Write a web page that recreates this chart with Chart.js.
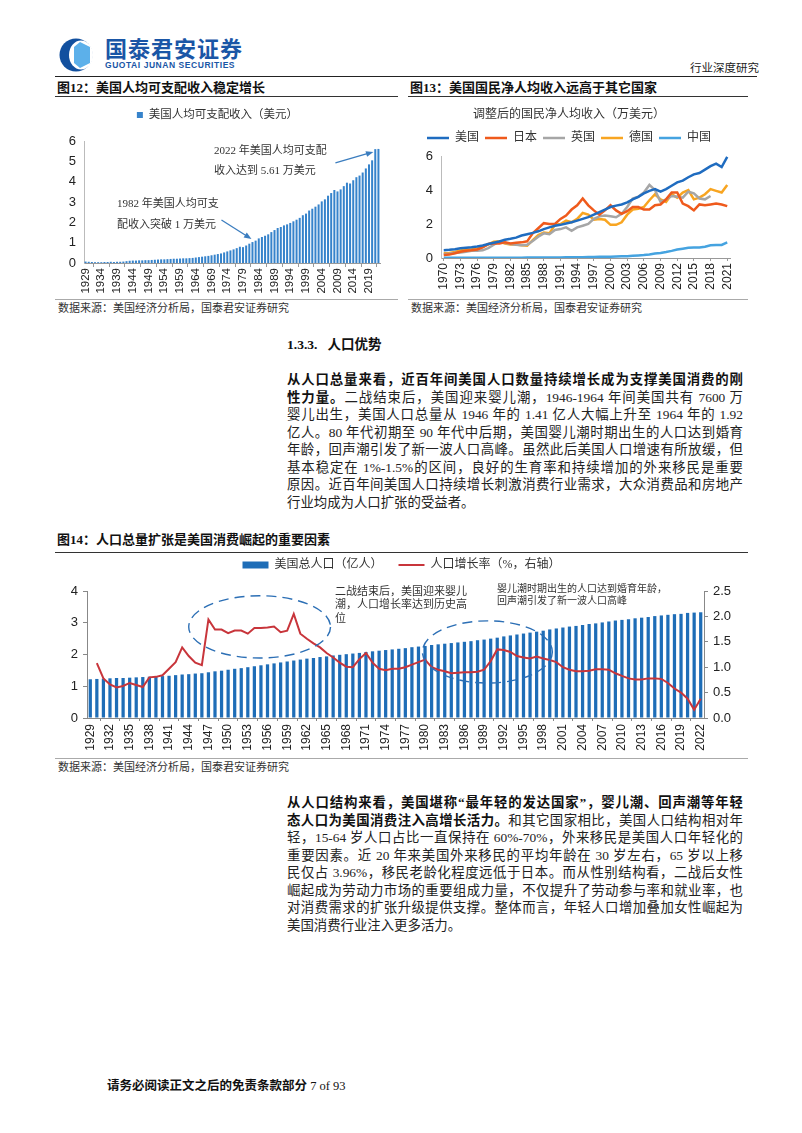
<!DOCTYPE html>
<html>
<head>
<meta charset="utf-8">
<script src="https://cdn.jsdelivr.net/npm/chart.js@4.4.0/dist/chart.umd.min.js"></script>
<style>
  body { margin: 0; width: 802px; height: 1133px; position: relative; background: #fff; overflow: hidden;
         font-family: "Liberation Serif", "Noto Sans CJK SC", serif; color: #111; }
  .t { position: absolute; white-space: nowrap; }
  .fig { font-weight: bold; font-size: 13px; line-height: 16px; }
  .rule { position: absolute; height: 0; border-top: 1.5px solid #333; }
  .rule.light { border-top-color: #aaa; }
  .src { font-size: 11px; line-height: 14px; color: #333; }
  .ln { position: absolute; left: 287px; width: 456px; font-size: 13.4px; line-height: 18px;
        text-align: justify; text-align-last: justify; color: #222; }
  .ln.last { text-align-last: left; }
  b { font-weight: bold; color: #111; }
  canvas { position: absolute; }
</style>
</head>
<body>

<!-- header -->
<svg class="t" style="left:57px;top:38px" width="44" height="34" viewBox="0 0 44 34">
  <circle cx="19" cy="17" r="16.5" fill="#12509f"/>
  <ellipse cx="24" cy="17" rx="12" ry="14.5" fill="#fff"/>
  <path d="M23 4 L33 9 L33 25 L23 30 L17 25 L17 9 Z" fill="#5cb0ea"/>
</svg>
<div class="t" style="left:105px;top:35px;font-family:'Noto Sans CJK SC';font-weight:bold;font-size:22px;line-height:25px;color:#1a56a6;letter-spacing:1px">国泰君安证券</div>
<div class="t" style="left:105px;top:60px;font-family:'Liberation Sans';font-weight:bold;font-size:8.5px;line-height:10px;color:#1a56a6;letter-spacing:0.55px">GUOTAI JUNAN SECURITIES</div>
<div class="t" style="left:690px;top:60px;font-family:'Noto Sans CJK SC';font-size:11.5px;line-height:14px;color:#222">行业深度研究</div>
<div class="rule" style="left:55px;top:76px;width:702px;border-top-color:#222"></div>

<!-- figure 12 / 13 titles -->
<div class="t fig" style="left:57px;top:80px">图12：美国人均可支配收入稳定增长</div>
<div class="t fig" style="left:410px;top:80px">图13：美国国民净人均收入远高于其它国家</div>
<div class="rule" style="left:55px;top:96px;width:343px"></div>
<div class="rule" style="left:408px;top:96px;width:340px"></div>

<canvas id="c12" width="343" height="198" style="left:55px;top:100px"></canvas>
<canvas id="c13" width="342" height="198" style="left:408px;top:100px"></canvas>

<div class="rule light" style="left:55px;top:299px;width:343px"></div>
<div class="rule light" style="left:408px;top:299px;width:340px"></div>
<div class="t src" style="left:58px;top:301px">数据来源：美国经济分析局，国泰君安证券研究</div>
<div class="t src" style="left:411px;top:301px">数据来源：美国经济分析局，国泰君安证券研究</div>

<!-- section text -->
<div class="t" style="left:287px;top:337px;font-weight:bold;font-size:13.5px;line-height:16px">1.3.3.&nbsp;&nbsp;&nbsp;人口优势</div>

<div class="ln" style="top:371px"><b>从人口总量来看，近百年间美国人口数量持续增长成为支撑美国消费的刚</b></div>
<div class="ln" style="top:388.5px"><b>性力量。</b>二战结束后，美国迎来婴儿潮，1946-1964 年间美国共有 7600 万</div>
<div class="ln" style="top:406px">婴儿出生，美国人口总量从 1946 年的 1.41 亿人大幅上升至 1964 年的 1.92</div>
<div class="ln" style="top:423.5px">亿人。80 年代初期至 90 年代中后期，美国婴儿潮时期出生的人口达到婚育</div>
<div class="ln" style="top:441px">年龄，回声潮引发了新一波人口高峰。虽然此后美国人口增速有所放缓，但</div>
<div class="ln" style="top:458.5px">基本稳定在 1%-1.5%的区间，良好的生育率和持续增加的外来移民是重要</div>
<div class="ln" style="top:476px">原因。近百年间美国人口持续增长刺激消费行业需求，大众消费品和房地产</div>
<div class="ln last" style="top:493.5px">行业均成为人口扩张的受益者。</div>

<!-- figure 14 -->
<div class="t fig" style="left:57px;top:532px">图14：人口总量扩张是美国消费崛起的重要因素</div>
<div class="rule" style="left:55px;top:552px;width:693px"></div>
<canvas id="c14" width="693" height="209" style="left:55px;top:549px"></canvas>
<div class="rule light" style="left:55px;top:758px;width:693px"></div>
<div class="t src" style="left:58px;top:760px">数据来源：美国经济分析局，国泰君安证券研究</div>

<div class="ln" style="top:794px"><b>从人口结构来看，美国堪称“最年轻的发达国家”，婴儿潮、回声潮等年轻</b></div>
<div class="ln" style="top:811.5px"><b>态人口为美国消费注入高增长活力。</b>和其它国家相比，美国人口结构相对年</div>
<div class="ln" style="top:829px">轻，15-64 岁人口占比一直保持在 60%-70%，外来移民是美国人口年轻化的</div>
<div class="ln" style="top:846.5px">重要因素。近 20 年来美国外来移民的平均年龄在 30 岁左右，65 岁以上移</div>
<div class="ln" style="top:864px">民仅占 3.96%，移民老龄化程度远低于日本。而从性别结构看，二战后女性</div>
<div class="ln" style="top:881.5px">崛起成为劳动力市场的重要组成力量，不仅提升了劳动参与率和就业率，也</div>
<div class="ln" style="top:899px">对消费需求的扩张升级提供支撑。整体而言，年轻人口增加叠加女性崛起为</div>
<div class="ln last" style="top:916.5px">美国消费行业注入更多活力。</div>

<div class="t" style="left:107px;top:1077px;font-size:12.5px;line-height:16px"><span style="font-family:'Noto Sans CJK SC';font-weight:bold">请务必阅读正文之后的免责条款部分</span> 7 of 93</div>

<script>
// ---------- data ----------
function yearRange(a, b) {
  const out = [];
  for (let y = a; y <= b; y++) out.push(String(y));
  return out;
}

// fig 12: per-capita disposable income, 万美元, 1929-2022
const YEARS_12 = yearRange(1929, 2022);
const DPI_PER_CAPITA = [
  0.07, 0.06, 0.05, 0.04, 0.04, 0.04, 0.05, 0.05, 0.06, 0.05,
  0.06, 0.06, 0.07, 0.09, 0.11, 0.12, 0.12, 0.13, 0.13, 0.14,
  0.14, 0.15, 0.16, 0.17, 0.18, 0.18, 0.19, 0.20, 0.21, 0.21,
  0.22, 0.23, 0.23, 0.24, 0.25, 0.27, 0.29, 0.31, 0.33, 0.35,
  0.38, 0.41, 0.44, 0.47, 0.52, 0.57, 0.62, 0.67, 0.73, 0.80,
  0.78, 0.86, 0.95, 1.03, 1.10, 1.21, 1.28, 1.34, 1.41, 1.52,
  1.62, 1.72, 1.77, 1.85, 1.90, 1.97, 2.05, 2.13, 2.22, 2.35,
  2.43, 2.58, 2.67, 2.77, 2.88, 3.03, 3.13, 3.31, 3.44, 3.59,
  3.52, 3.62, 3.78, 3.95, 3.91, 4.07, 4.22, 4.30, 4.45, 4.65,
  4.85, 5.05, 5.60, 5.61
];
const Y_MAX_12 = 6;

// fig 13: adjusted net national income per capita, 万美元, 1970-2021
const YEARS_13 = yearRange(1970, 2021);
const NNI_US = [
  0.45, 0.48, 0.52, 0.57, 0.60, 0.63, 0.68, 0.74, 0.82, 0.90,
  0.97, 1.08, 1.13, 1.20, 1.32, 1.40, 1.48, 1.57, 1.70, 1.80,
  1.90, 1.95, 2.03, 2.10, 2.20, 2.30, 2.40, 2.55, 2.70, 2.85,
  3.00, 3.08, 3.15, 3.27, 3.45, 3.60, 3.80, 3.95, 4.05, 3.90,
  4.05, 4.25, 4.45, 4.55, 4.75, 4.92, 5.00, 5.20, 5.40, 5.55,
  5.35, 5.95
];
const NNI_JP = [
  0.18, 0.20, 0.28, 0.37, 0.42, 0.45, 0.50, 0.62, 0.82, 0.85,
  0.85, 0.92, 0.85, 0.90, 0.92, 0.98, 1.45, 1.75, 2.05, 2.00,
  2.00, 2.30, 2.50, 2.85, 3.10, 3.50, 3.10, 2.80, 2.55, 2.80,
  3.10, 2.80, 2.60, 2.75, 3.00, 3.00, 2.85, 2.85, 3.10, 3.15,
  3.45, 3.85, 3.85, 3.20, 3.05, 2.80, 3.15, 3.10, 3.15, 3.20,
  3.15, 3.05
];
const NNI_UK = [
  0.22, 0.25, 0.30, 0.33, 0.37, 0.42, 0.42, 0.45, 0.58, 0.78,
  0.98, 0.90, 0.82, 0.78, 0.75, 0.78, 1.00, 1.25, 1.45, 1.40,
  1.65, 1.70, 1.80, 1.60, 1.80, 1.90, 2.00, 2.30, 2.45, 2.50,
  2.45, 2.40, 2.60, 3.00, 3.50, 3.60, 3.85, 4.30, 4.00, 3.30,
  3.45, 3.65, 3.60, 3.55, 3.90, 3.80, 3.50, 3.45, 3.65, null,
  null, null
];
const NNI_DE = [
  0.28, 0.30, 0.35, 0.45, 0.50, 0.52, 0.55, 0.65, 0.80, 0.95,
  0.98, 0.85, 0.80, 0.80, 0.75, 0.72, 1.05, 1.35, 1.50, 1.45,
  1.95, 2.00, 2.20, 2.10, 2.30, 2.65, 2.55, 2.25, 2.30, 2.25,
  1.95, 1.95, 2.10, 2.55, 2.85, 2.90, 3.00, 3.40, 3.75, 3.45,
  3.30, 3.75, 3.55, 3.85, 4.00, 3.45, 3.55, 3.75, 4.05, 3.95,
  3.85, 4.30
];
const NNI_CN = [
  0.01, 0.01, 0.01, 0.01, 0.01, 0.01, 0.01, 0.01, 0.02, 0.02,
  0.02, 0.02, 0.02, 0.02, 0.02, 0.03, 0.03, 0.03, 0.03, 0.03,
  0.03, 0.03, 0.04, 0.04, 0.04, 0.05, 0.06, 0.06, 0.07, 0.07,
  0.08, 0.09, 0.10, 0.11, 0.13, 0.15, 0.17, 0.21, 0.26, 0.30,
  0.35, 0.42, 0.50, 0.55, 0.60, 0.62, 0.62, 0.66, 0.75, 0.76,
  0.77, 0.92
];
const SERIES_13 = [
  { label: "美国", data: NNI_US, color: "#1f6cc0" },
  { label: "日本", data: NNI_JP, color: "#ef5a1c" },
  { label: "英国", data: NNI_UK, color: "#a6a6a6" },
  { label: "德国", data: NNI_DE, color: "#f8a521" },
  { label: "中国", data: NNI_CN, color: "#45a3e0" },
];

// fig 14: population (亿人) and growth rate (%), 1929-2022
const YEARS_14 = yearRange(1929, 2022);
const POPULATION = [
  1.22, 1.23, 1.24, 1.25, 1.26, 1.26, 1.27, 1.28, 1.29, 1.30,
  1.31, 1.32, 1.33, 1.35, 1.37, 1.38, 1.40, 1.41, 1.44, 1.47,
  1.49, 1.52, 1.55, 1.57, 1.60, 1.63, 1.66, 1.69, 1.72, 1.75,
  1.78, 1.81, 1.84, 1.87, 1.89, 1.92, 1.94, 1.97, 1.99, 2.01,
  2.03, 2.05, 2.08, 2.10, 2.12, 2.14, 2.16, 2.18, 2.20, 2.23,
  2.25, 2.27, 2.30, 2.32, 2.34, 2.36, 2.38, 2.40, 2.42, 2.45,
  2.47, 2.50, 2.53, 2.57, 2.60, 2.63, 2.66, 2.69, 2.72, 2.75,
  2.79, 2.82, 2.85, 2.88, 2.90, 2.93, 2.96, 2.98, 3.01, 3.04,
  3.07, 3.09, 3.11, 3.14, 3.16, 3.18, 3.21, 3.23, 3.25, 3.27,
  3.28, 3.31, 3.32, 3.33
];
const POP_GROWTH = [
  null, 1.08, 0.78, 0.66, 0.60, 0.63, 0.69, 0.65, 0.61, 0.80,
  0.81, 0.84, 0.97, 1.10, 1.39, 1.22, 1.09, 1.04, 1.94, 1.74,
  1.74, 1.67, 1.72, 1.72, 1.66, 1.77, 1.77, 1.78, 1.80, 1.69,
  1.72, 2.05, 1.66, 1.56, 1.47, 1.39, 1.28, 1.19, 1.09, 1.01,
  1.00, 1.16, 1.28, 1.09, 0.97, 0.94, 0.97, 0.97, 1.00, 1.05,
  1.10, 1.15, 1.00, 0.95, 0.92, 0.88, 0.89, 0.90, 0.90, 0.91,
  0.95, 1.12, 1.35, 1.34, 1.30, 1.22, 1.19, 1.17, 1.21, 1.17,
  1.14, 1.10, 1.00, 0.95, 0.92, 0.92, 0.93, 0.96, 0.96, 0.95,
  0.88, 0.83, 0.78, 0.76, 0.76, 0.78, 0.78, 0.77, 0.69, 0.58,
  0.50, 0.38, 0.16, 0.38
];

// ---------- shared styling ----------
const SANS = '"Liberation Sans", "Noto Sans CJK SC", sans-serif';
const CJK = '"Liberation Serif", "Noto Sans CJK SC", serif';
const TEXT = "#222";
const ARROW_COLOR = "#3b7dbf";
Chart.defaults.font.family = SANS;
Chart.defaults.color = TEXT;

function everyNth(labels, n) {
  return (value, index) => (index % n === 0 ? labels[index] : null);
}

function gapAxis(px) {
  return {
    type: "linear", position: "top", display: true,
    grid: { display: false }, border: { display: false }, ticks: { display: false },
    afterFit: (s) => { s.height = px; },
  };
}

function drawArrow(ctx, x1, y1, x2, y2, color) {
  const a = Math.atan2(y2 - y1, x2 - x1);
  const h = 8;
  ctx.save();
  ctx.strokeStyle = color;
  ctx.fillStyle = color;
  ctx.lineWidth = 1.3;
  ctx.beginPath();
  ctx.moveTo(x1, y1);
  ctx.lineTo(x2 - h * 0.7 * Math.cos(a), y2 - h * 0.7 * Math.sin(a));
  ctx.stroke();
  ctx.beginPath();
  ctx.moveTo(x2, y2);
  ctx.lineTo(x2 - h * Math.cos(a - 0.38), y2 - h * Math.sin(a - 0.38));
  ctx.lineTo(x2 - h * Math.cos(a + 0.38), y2 - h * Math.sin(a + 0.38));
  ctx.closePath();
  ctx.fill();
  ctx.restore();
}

function writeLines(ctx, lines, x, y, step, font) {
  ctx.save();
  ctx.font = font;
  ctx.fillStyle = "#333";
  ctx.textBaseline = "middle";
  ctx.textAlign = "left";
  lines.forEach((line, i) => ctx.fillText(line, x, y + i * step));
  ctx.restore();
}

// ---------- fig 12 ----------
const notes12 = {
  id: "notes12",
  afterDatasetsDraw(chart) {
    const { ctx } = chart;
    const x = chart.scales.x, y = chart.scales.y;
    const i82 = YEARS_12.indexOf("1982");
    const i22 = YEARS_12.indexOf("2022");
    const t1 = { x: x.getPixelForValue(i82) - 1, y: y.getPixelForValue(DPI_PER_CAPITA[i82]) - 3 };
    const t2 = { x: x.getPixelForValue(i22) - 5, y: y.getPixelForValue(DPI_PER_CAPITA[i22]) + 3 };
    drawArrow(ctx, t1.x - 30, t1.y - 19, t1.x, t1.y, ARROW_COLOR);
    drawArrow(ctx, t2.x - 38, t2.y + 11, t2.x, t2.y, ARROW_COLOR);
    const font = '11px ' + CJK;
    writeLines(ctx, ["2022 年美国人均可支配", "收入达到 5.61 万美元"], 159, 51, 20, font);
    writeLines(ctx, ["1982 年美国人均可支", "配收入突破 1 万美元"], 62, 104, 21, font);
  },
};

new Chart(document.getElementById("c12"), {
  type: "bar",
  data: {
    labels: YEARS_12,
    datasets: [{
      label: "美国人均可支配收入（美元）",
      data: DPI_PER_CAPITA,
      xAxisID: "x", yAxisID: "y",
      backgroundColor: "#3683cb",
      barPercentage: 0.8, categoryPercentage: 0.8,
    }],
  },
  options: {
    responsive: false, animation: false,
    layout: { padding: { top: 3.25, right: 18, left: 0, bottom: 0 } },
    plugins: {
      legend: {
        labels: { font: { size: 11.5, family: CJK }, color: "#333", boxWidth: 6, boxHeight: 6, padding: 6 },
      },
      tooltip: { enabled: false },
    },
    scales: {
      x: {
        grid: { display: true, drawOnChartArea: false, tickLength: 4, color: "#999" },
        border: { color: "#999" },
        ticks: { autoSkip: false, maxRotation: 90, minRotation: 90, padding: 1, font: { size: 11.5 }, callback: everyNth(YEARS_12, 5) },
        afterFit: (s) => { s.height = 35; },
      },
      gap: gapAxis(10.25),
      y: {
        min: 0, max: Y_MAX_12,
        ticks: { stepSize: 1, padding: 8, font: { size: 13 } },
        grid: { display: false, drawTicks: false },
        border: { display: true, color: "#bbb" },
        afterFit: (s) => { s.width = 29; },
      },
    },
  },
  plugins: [notes12],
});

// ---------- fig 13 ----------
new Chart(document.getElementById("c13"), {
  type: "line",
  data: {
    labels: YEARS_13,
    datasets: SERIES_13.map((s) => ({
      label: s.label, data: s.data, xAxisID: "x", yAxisID: "y",
      borderColor: s.color, backgroundColor: s.color,
      borderWidth: 2.5, pointRadius: 0, tension: 0, spanGaps: false,
    })),
  },
  options: {
    responsive: false, animation: false,
    layout: { padding: { top: 7.8, right: 20, left: 0, bottom: 0 } },
    plugins: {
      title: {
        display: true, text: "调整后的国民净人均收入（万美元）",
        font: { size: 12, family: CJK, weight: "normal" }, color: "#333",
        padding: { top: 0, bottom: 3.8 },
      },
      legend: {
        labels: {
          font: { size: 12, family: CJK }, color: "#333",
          usePointStyle: true, pointStyle: "line", pointStyleWidth: 22, padding: 6,
        },
      },
      tooltip: { enabled: false },
    },
    scales: {
      x: {
        offset: true,
        grid: { display: true, drawOnChartArea: false, offset: false, tickLength: 3, color: "#999" },
        border: { color: "#999" },
        ticks: { autoSkip: false, maxRotation: 90, minRotation: 90, padding: 2, font: { size: 12 }, callback: everyNth(YEARS_13, 3) },
        afterFit: (s) => { s.height = 40; },
      },
      gap: gapAxis(2),
      y: {
        min: 0, max: 6,
        ticks: { stepSize: 2, padding: 8, font: { size: 13 } },
        grid: { display: false, drawTicks: false },
        border: { display: true, color: "#bbb" },
        afterFit: (s) => { s.width = 33; },
      },
    },
  },
});

// ---------- fig 14 ----------
const notes14 = {
  id: "notes14",
  afterDatasetsDraw(chart) {
    const { ctx } = chart;
    const x = chart.scales.x, y = chart.scales.y;
    const ellipse = (cx, cy, rx, ry) => {
      const px = x.getPixelForValue(cx), py = y.getPixelForValue(cy);
      const prx = Math.abs(x.getPixelForValue(cx + rx) - px);
      const pry = Math.abs(y.getPixelForValue(cy + ry) - py);
      ctx.save();
      ctx.strokeStyle = "#2c6fb5";
      ctx.lineWidth = 1.4;
      ctx.setLineDash([10, 6]);
      ctx.beginPath();
      ctx.ellipse(px, py, prx, pry, 0, 0, Math.PI * 2);
      ctx.stroke();
      ctx.restore();
    };
    // boom of the late 1940s-50s and the echo boom around 1990
    ellipse(YEARS_14.indexOf("1955") - 0.2, 2.87, 10.8, 0.98);
    ellipse(YEARS_14.indexOf("1989") + 0.5, 2.08, 9.9, 0.98);
    writeLines(ctx, ["二战结束后，美国迎来婴儿", "潮，人口增长率达到历史高", "位"], 280, 43, 13.5, '11px ' + CJK);
    writeLines(ctx, ["婴儿潮时期出生的人口达到婚育年龄，", "回声潮引发了新一波人口高峰"], 442, 40, 12, '10px ' + CJK);
  },
};

new Chart(document.getElementById("c14"), {
  type: "bar",
  data: {
    labels: YEARS_14,
    datasets: [
      {
        type: "line", label: "人口增长率（%，右轴）", data: POP_GROWTH,
        xAxisID: "x", yAxisID: "y2",
        borderColor: "#c8353b", backgroundColor: "#c8353b", borderWidth: 2,
        pointRadius: 0, tension: 0, order: 0,
      },
      {
        label: "美国总人口（亿人）　", data: POPULATION,
        xAxisID: "x", yAxisID: "y",
        backgroundColor: "#1e6db7", barPercentage: 0.55, categoryPercentage: 0.9, order: 1,
      },
    ],
  },
  options: {
    responsive: false, animation: false,
    layout: { padding: { top: 0, right: 0, left: 0, bottom: 0 } },
    plugins: {
      legend: {
        labels: {
          font: { size: 12, family: CJK }, color: "#333",
          usePointStyle: true, pointStyleWidth: 26, boxHeight: 7, padding: 10,
          sort: (a, b) => b.datasetIndex - a.datasetIndex,
          generateLabels(chart) {
            const items = Chart.defaults.plugins.legend.labels.generateLabels(chart);
            items.forEach((it) => {
              const ds = chart.data.datasets[it.datasetIndex];
              if (ds.type === "line") {
                it.pointStyle = "line"; it.lineWidth = 2; it.strokeStyle = ds.borderColor;
              } else {
                it.pointStyle = "rect"; it.lineWidth = 0; it.fillStyle = ds.backgroundColor;
              }
            });
            return items;
          },
        },
      },
      tooltip: { enabled: false },
    },
    scales: {
      x: {
        grid: { display: true, drawOnChartArea: false, tickLength: 3, color: "#888" },
        border: { color: "#888" },
        ticks: { autoSkip: false, maxRotation: 90, minRotation: 90, padding: 3, font: { size: 12 }, callback: everyNth(YEARS_14, 3) },
        afterFit: (s) => { s.height = 40; },
      },
      gap: gapAxis(10),
      y: {
        position: "left", min: 0, max: 4,
        ticks: { stepSize: 1, padding: 5, font: { size: 13 } },
        grid: { drawOnChartArea: false, tickLength: 4, color: "#888" },
        border: { display: true, color: "#888" },
        afterFit: (s) => { s.width = 32; },
      },
      y2: {
        position: "right", min: 0, max: 2.5,
        ticks: { stepSize: 0.5, padding: 5, font: { size: 13 }, callback: (v) => Number(v).toFixed(1) },
        grid: { drawOnChartArea: false, tickLength: 4, color: "#888" },
        border: { display: true, color: "#888" },
        afterFit: (s) => { s.width = 44; },
      },
    },
  },
  plugins: [notes14],
});
</script>
</body>
</html>
